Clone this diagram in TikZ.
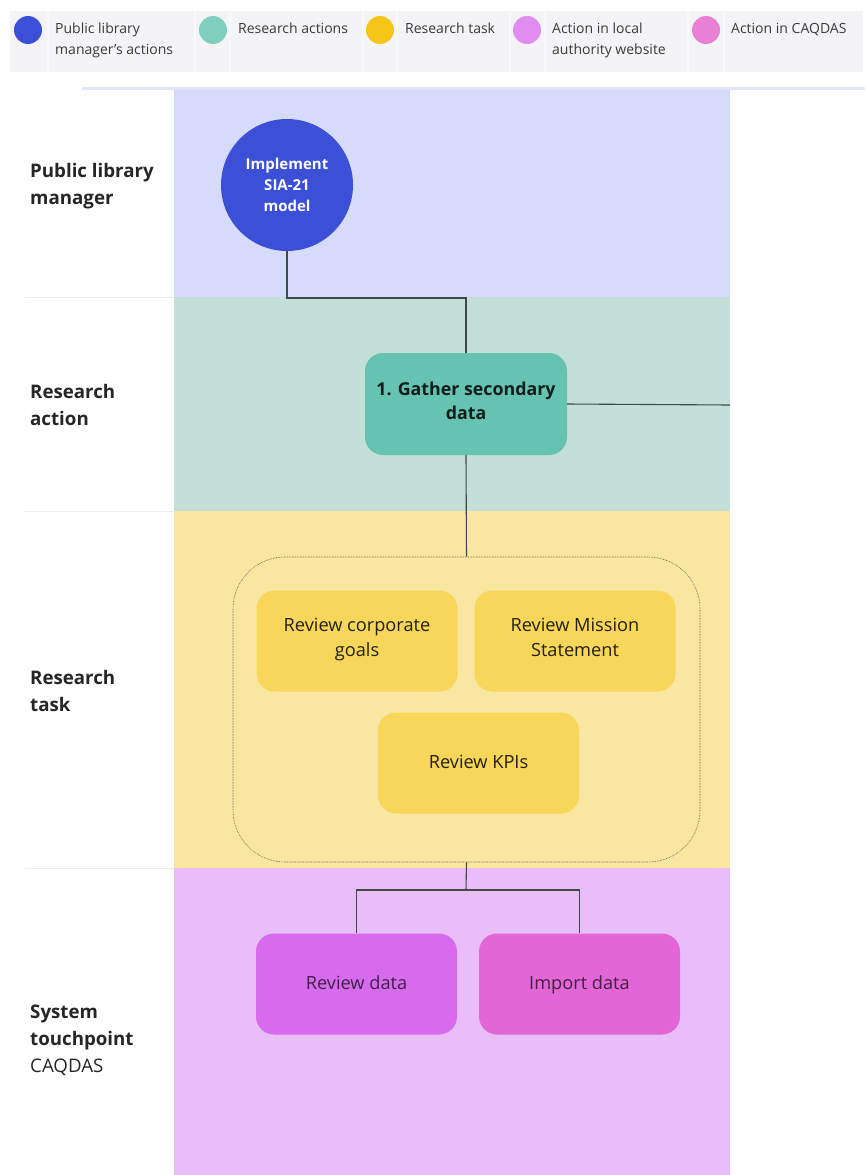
\documentclass[tikz,border=0pt]{standalone}
\usepackage{fontspec}
\setmainfont{Open Sans}
\begin{document}
\begin{tikzpicture}[x=1pt,y=-1pt,
  lanelabel/.style={anchor=west,inner sep=0pt,align=left,text=labeltxt,
    font=\fontsize{18.7}{27}\selectfont},
  legtxt/.style={inner sep=0pt,align=left,text=legendtxt,
    font=\fontsize{14}{21}\selectfont},
  legdot/.style={circle,inner sep=0pt,minimum size=28pt},
  card/.style={rounded corners=18pt,inner sep=4pt,align=center,
    minimum width=201pt,minimum height=101pt,
    execute at end node=\strut,
    font=\fontsize{18.2}{25}\selectfont},
  oneline/.style={execute at begin node=\strut},
  twoline/.style={execute at begin node={\rule{0pt}{24pt}}},
  link/.style={draw=linkgray,line width=1.1pt},
]
\definecolor{labeltxt}{HTML}{262626}
\definecolor{legendtxt}{HTML}{3A3A3A}
\definecolor{legendbg}{HTML}{F4F4F6}
\definecolor{legendsep}{HTML}{F9F9FA}
\definecolor{laneA}{HTML}{D6DBFB}
\definecolor{laneB}{HTML}{C3DFD7}
\definecolor{laneC}{HTML}{F9E6A0}
\definecolor{laneD}{HTML}{E9BDF8}
\definecolor{mgrblue}{HTML}{3B50D6}
\definecolor{actteal}{HTML}{66C3B2}
\definecolor{taskyel}{HTML}{F7D65A}
\definecolor{revpurple}{HTML}{D66BEE}
\definecolor{imppink}{HTML}{E266D6}
\definecolor{legteal}{HTML}{7FCFC1}
\definecolor{legyel}{HTML}{F6C51A}
\definecolor{leglilac}{HTML}{E18CF0}
\definecolor{legpink}{HTML}{E880D6}
\definecolor{linkgray}{HTML}{3E4A48}
\definecolor{rulegray}{HTML}{ECECEC}

\useasboundingbox[fill=white] (0,0) rectangle (865,1175);

% ---- legend strip ----
\fill[legendbg] (10,11) rectangle (863,72);
\foreach \sx in {48,195,230,363,397,510,545,688,724}
  \draw[legendsep,line width=1.2pt] (\sx,11) -- (\sx,72);
\node[legdot,fill=mgrblue] (d1) at (28,30) {};
\node[legdot,fill=legteal] (d2) at (213,30) {};
\node[legdot,fill=legyel] (d3) at (380,30) {};
\node[legdot,fill=leglilac] (d4) at (527,30) {};
\node[legdot,fill=legpink] (d5) at (706,30) {};
\node[legtxt,anchor=north west] (l1) at (55,23) {Public library\\manager's actions};
\node[legtxt,anchor=north west] (l2) at (238,23) {Research actions};
\node[legtxt,anchor=north west] (l3) at (405,23) {Research task};
\node[legtxt,anchor=north west] (l4) at (552,23) {Action in local\\authority website};
\node[legtxt,anchor=north west] (l5) at (731,23) {Action in CAQDAS};

% ---- swimlanes ----
\fill[laneA!70!white] (82,86.5) rectangle (865,90);
\fill[laneA] (174,90) rectangle (730,297);
\fill[laneB] (174,297) rectangle (730,511);
\fill[laneC] (174,511) rectangle (730,868);
\fill[laneD] (174,868) rectangle (730,1175);
\foreach \ry in {297,511,868}
  \draw[rulegray,line width=1pt] (25,\ry) -- (174,\ry);

\node[lanelabel] (lane1) at (30,186) {\bfseries Public library\\\bfseries manager};
\node[lanelabel] (lane2) at (30,405) {\bfseries Research\\\bfseries action};
\node[lanelabel] (lane3) at (30,691) {\bfseries Research\\\bfseries task};
\node[lanelabel] (lane4) at (30,1040) {\bfseries System\\\bfseries touchpoint\\CAQDAS};

% ---- nodes ----
\node[circle,fill=mgrblue,minimum size=132pt,inner sep=0pt,text=white,align=center,
  font=\bfseries\fontsize{15}{21}\selectfont] (impl) at (287,185)
  {Implement\\SIA-21\\model};

\node[card,twoline,fill=actteal,text=black!85!actteal,minimum width=202pt,minimum height=102pt,
  font=\bfseries\fontsize{17.8}{24}\selectfont] (gather) at (466,404)
  {1. Gather secondary\\data};

\node[draw=linkgray,densely dotted,line width=0.6pt,rounded corners=52pt,
  minimum width=467pt,minimum height=305pt,inner sep=0pt] (grp) at (466.5,709.5) {};

\node[card,twoline,fill=taskyel,text=black!85!taskyel] (goals) at (357,641)
  {Review corporate\\goals};
\node[card,twoline,fill=taskyel,text=black!85!taskyel] (mission) at (575,641)
  {Review Mission\\Statement};
\node[card,oneline,fill=taskyel,text=black!85!taskyel] (kpis) at (478.5,763)
  {Review KPIs};

\node[card,oneline,fill=revpurple,text=black!70!revpurple] (review) at (356.5,984)
  {Review data};
\node[card,oneline,fill=imppink,text=black!70!imppink] (import) at (579.5,984)
  {Import data};

% ---- connectors ----
\coordinate (j1) at (466,298);
\coordinate (laneR) at (730,405);
\coordinate (j2) at (466,890);
\draw[link] (impl.south) |- (j1) -- (gather.north);
\draw[link] (gather.east) -- (laneR);
\draw[link] (gather.south) -- (grp.north);
\draw[link] (grp.south) -- (j2);
\draw[link] (j2) -| (review.north);
\draw[link] (j2) -| (import.north);
\end{tikzpicture}
\end{document}
